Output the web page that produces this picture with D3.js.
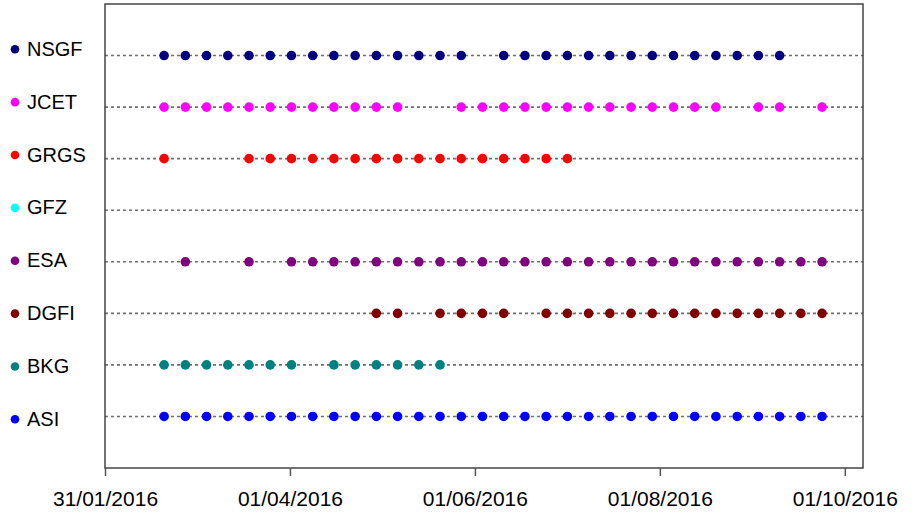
<!DOCTYPE html>
<html>
<head>
<meta charset="utf-8">
<script src="https://cdn.jsdelivr.net/npm/d3@7"></script>
<style>
  body { margin: 0; background: #fff; }
  text { font-family: "Liberation Sans", Arial, sans-serif; fill: #000; }
</style>
</head>
<body>
<div id="chart-area"></div>
<script>
// weekly solution dates (one column per week, mid-day)
const weeks = [
  "2016-02-19 12:00", "2016-02-26 12:00", "2016-03-04 12:00", "2016-03-11 12:00",
  "2016-03-18 12:00", "2016-03-25 12:00", "2016-04-01 12:00", "2016-04-08 12:00",
  "2016-04-15 12:00", "2016-04-22 12:00", "2016-04-29 12:00", "2016-05-06 12:00",
  "2016-05-13 12:00", "2016-05-20 12:00", "2016-05-27 12:00", "2016-06-03 12:00",
  "2016-06-10 12:00", "2016-06-17 12:00", "2016-06-24 12:00", "2016-07-01 12:00",
  "2016-07-08 12:00", "2016-07-15 12:00", "2016-07-22 12:00", "2016-07-29 12:00",
  "2016-08-05 12:00", "2016-08-12 12:00", "2016-08-19 12:00", "2016-08-26 12:00",
  "2016-09-02 12:00", "2016-09-09 12:00", "2016-09-16 12:00", "2016-09-23 12:00"
]

// analysis centres, top to bottom
const centres = ["NSGF", "JCET", "GRGS", "GFZ", "ESA", "DGFI", "BKG", "ASI"]
const colours = ["#000080", "#ff00ff", "#ff0000", "#00ffff", "#800080", "#800000", "#008080", "#0000ff"]

// 1 = solution delivered that week
const NSGF = [1,1,1,1,1,1,1,1,1,1,1,1,1,1,1,0,1,1,1,1,1,1,1,1,1,1,1,1,1,1,0,0]
const JCET = [1,1,1,1,1,1,1,1,1,1,1,1,0,0,1,1,1,1,1,1,1,1,1,1,1,1,1,0,1,1,0,1]
const GRGS = [1,0,0,0,1,1,1,1,1,1,1,1,1,1,1,1,1,1,1,1,0,0,0,0,0,0,0,0,0,0,0,0]
const GFZ  = [0,0,0,0,0,0,0,0,0,0,0,0,0,0,0,0,0,0,0,0,0,0,0,0,0,0,0,0,0,0,0,0]
const ESA  = [0,1,0,0,1,0,1,1,1,1,1,1,1,1,1,1,1,1,1,1,1,1,1,1,1,1,1,1,1,1,1,1]
const DGFI = [0,0,0,0,0,0,0,0,0,0,1,1,0,1,1,1,1,0,1,1,1,1,1,1,1,1,1,1,1,1,1,1]
const BKG  = [1,1,1,1,1,1,1,0,1,1,1,1,1,1,0,0,0,0,0,0,0,0,0,0,0,0,0,0,0,0,0,0]
const ASI  = [1,1,1,1,1,1,1,1,1,1,1,1,1,1,1,1,1,1,1,1,1,1,1,1,1,1,1,1,1,1,1,1]
const flags = [NSGF, JCET, GRGS, GFZ, ESA, DGFI, BKG, ASI]

const tickDates = ["2016-01-31 00:00", "2016-04-01 00:00", "2016-06-01 00:00", "2016-08-01 00:00", "2016-10-01 00:00"]
const xDomain = ["2016-01-31 00:00", "2016-10-07 00:00"]

const WIDTH = 917
const HEIGHT = 512
const PLOT = { LEFT: 105, RIGHT: 863, TOP: 4, BOTTOM: 468 }

const parse = d3.timeParse("%Y-%m-%d %H:%M")
const fmt = d3.timeFormat("%d/%m/%Y")

const svg = d3.select("#chart-area").append("svg")
  .attr("width", WIDTH)
  .attr("height", HEIGHT)

const xScale = d3.scaleTime()
  .domain(xDomain.map(parse))
  .range([PLOT.LEFT, PLOT.RIGHT])

// rows: ASI = 1 ... NSGF = 8
const yScale = d3.scaleLinear()
  .domain([0, centres.length + 1])
  .range([PLOT.BOTTOM, PLOT.TOP])

const rowValue = i => centres.length - i

// dashed guide lines
svg.append("g").selectAll("line")
  .data(centres)
  .enter().append("line")
    .attr("x1", PLOT.LEFT)
    .attr("x2", PLOT.RIGHT)
    .attr("y1", (d, i) => yScale(rowValue(i)))
    .attr("y2", (d, i) => yScale(rowValue(i)))
    .attr("stroke", "#6e6e6e")
    .attr("stroke-width", 1.6)
    .attr("stroke-dasharray", "3,3")

// points
const points = []
centres.forEach((c, i) => {
  flags[i].forEach((f, w) => {
    if (f) points.push({ centre: c, row: i, date: parse(weeks[w]) })
  })
})

svg.append("g").selectAll("circle")
  .data(points)
  .enter().append("circle")
    .attr("cx", d => xScale(d.date))
    .attr("cy", d => yScale(rowValue(d.row)))
    .attr("r", 4.8)
    .attr("fill", d => colours[d.row])

// frame
svg.append("rect")
  .attr("x", PLOT.LEFT)
  .attr("y", PLOT.TOP)
  .attr("width", PLOT.RIGHT - PLOT.LEFT)
  .attr("height", PLOT.BOTTOM - PLOT.TOP)
  .attr("fill", "none")
  .attr("stroke", "#444")
  .attr("stroke-width", 1.5)

// x axis
const xAxis = d3.axisBottom(xScale)
  .tickValues(tickDates.map(parse))
  .tickFormat(fmt)
  .tickSize(8)
  .tickSizeOuter(0)
  .tickPadding(15)

const gx = svg.append("g")
  .attr("transform", `translate(0,${PLOT.BOTTOM})`)
  .call(xAxis)
gx.select(".domain").remove()
gx.selectAll(".tick line").attr("stroke", "#555").attr("stroke-width", 1.5)
gx.selectAll("text")
  .style("font-size", "21px")
  .style("font-family", "'Liberation Sans', Arial, sans-serif")
  .attr("fill", "#000")

// legend on the left
const legendY = d3.scaleLinear()
  .domain([0, centres.length - 1])
  .range([49.3, 419.3])

const legend = svg.append("g").selectAll("g")
  .data(centres)
  .enter().append("g")
    .attr("transform", (d, i) => `translate(0,${legendY(i)})`)

legend.append("circle")
  .attr("cx", 15)
  .attr("cy", 0)
  .attr("r", 4.3)
  .attr("fill", (d, i) => colours[i])

legend.append("text")
  .attr("x", 27)
  .attr("y", 6.5)
  .style("font-size", "20px")
  .text(d => d)
</script>
</body>
</html>
